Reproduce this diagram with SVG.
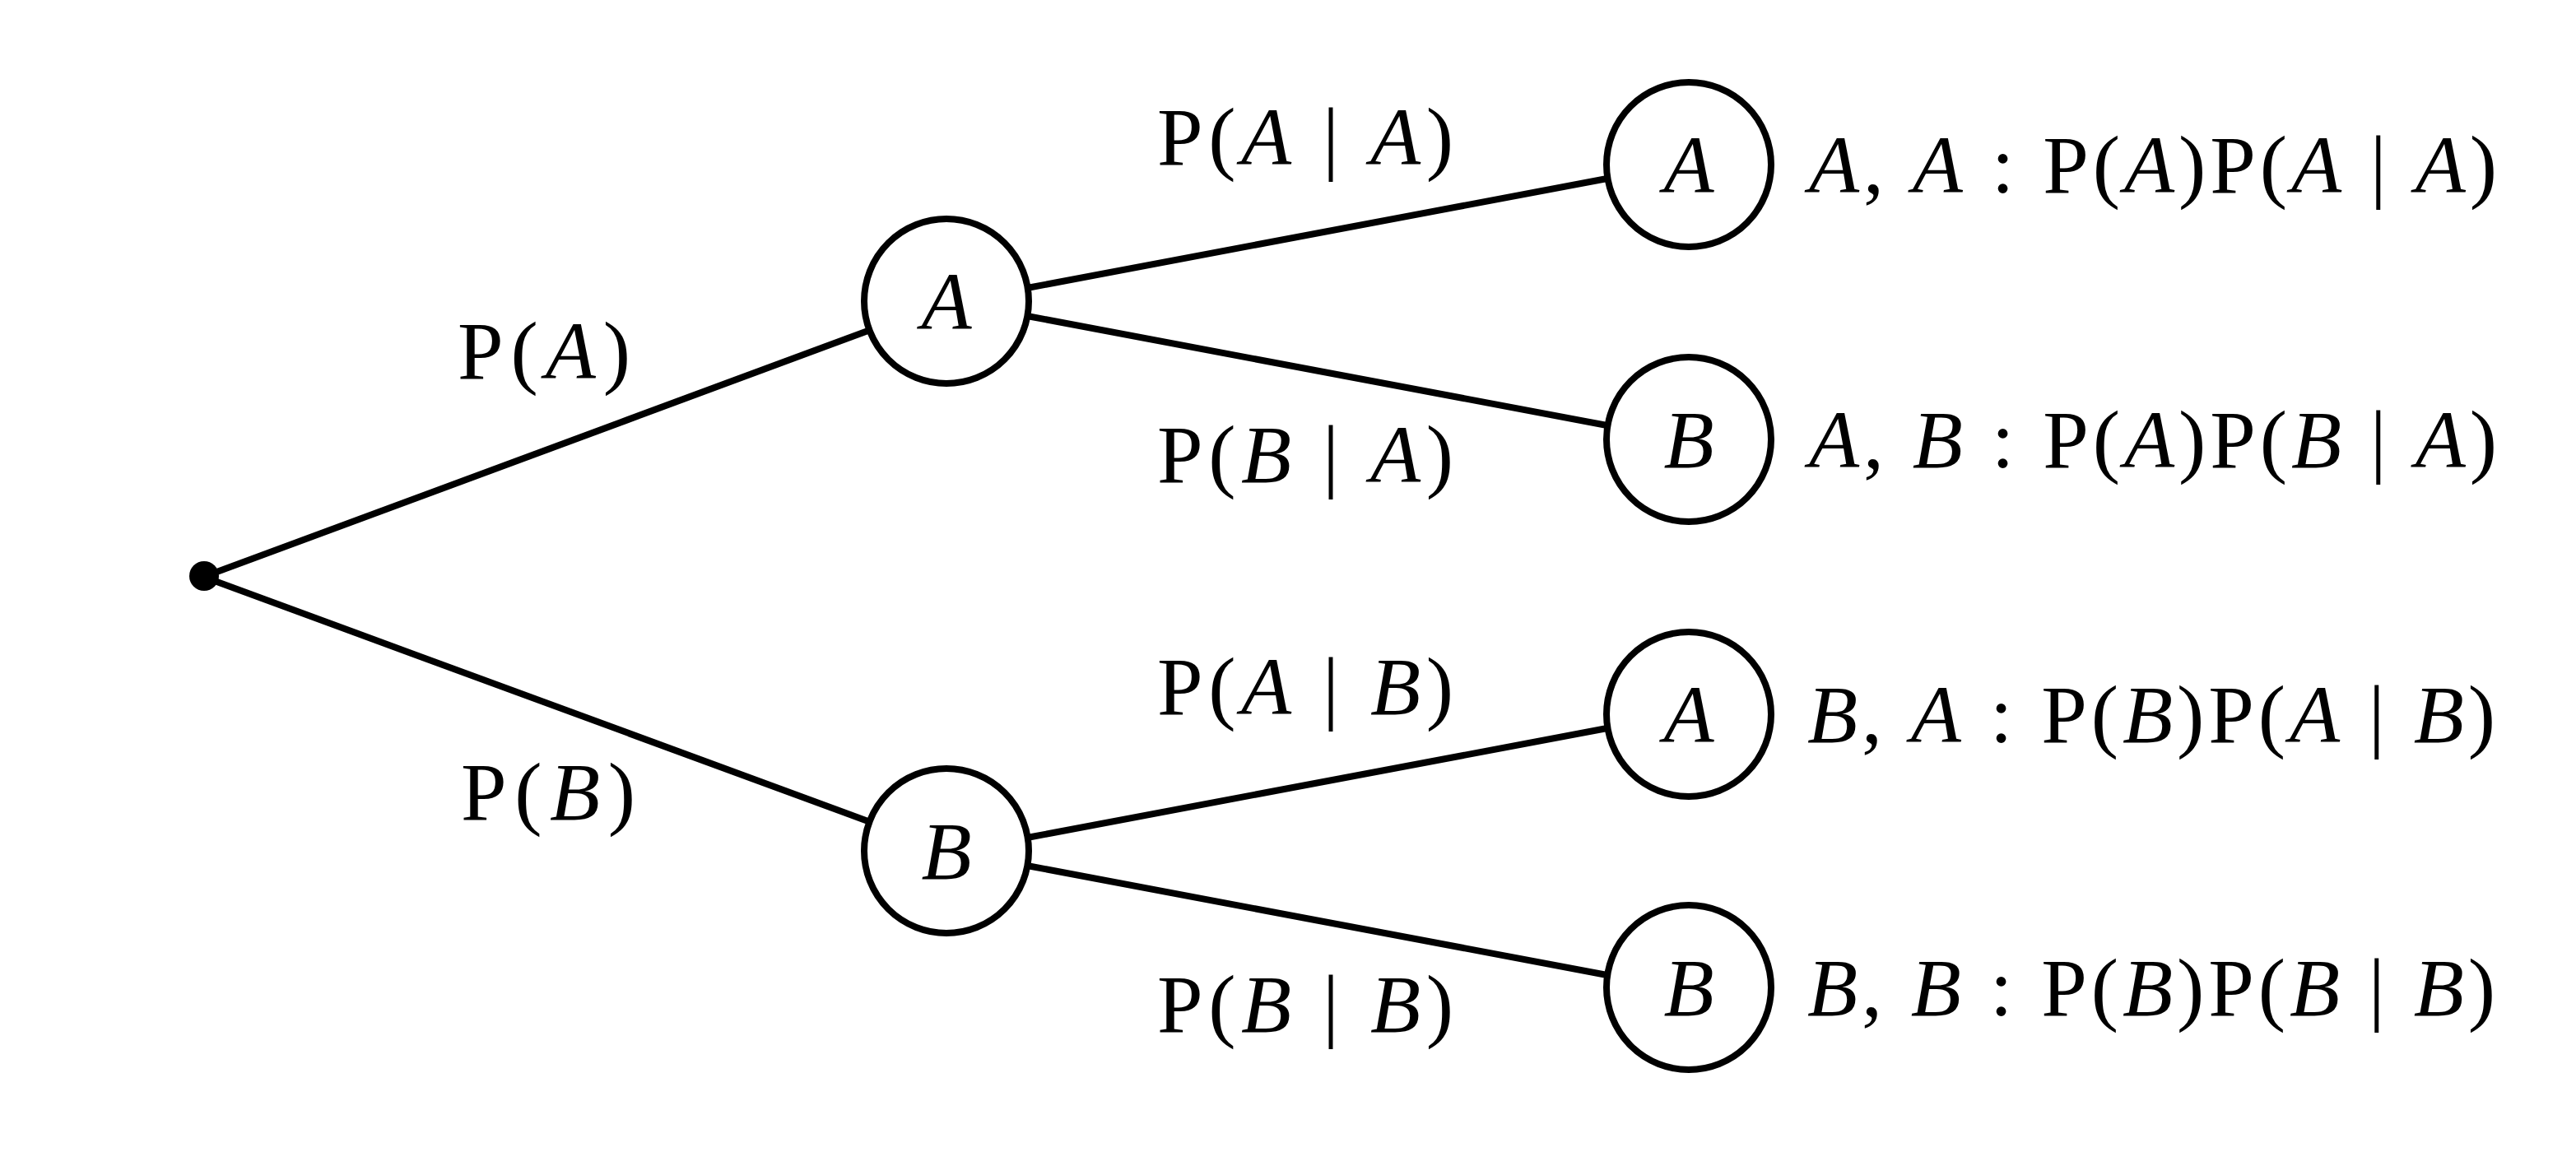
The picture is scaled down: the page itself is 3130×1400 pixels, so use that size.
<svg xmlns="http://www.w3.org/2000/svg" width="3130" height="1400" viewBox="0 0 3130 1400">
<style>
.e{stroke:#000;stroke-width:8;fill:none}
.n{stroke:#000;stroke-width:8;fill:#fff}
text{font-family:"Liberation Serif","DejaVu Serif",serif;font-size:100px;fill:#000}
.i{font-style:italic}
.m{text-anchor:middle}
</style>
<rect width="3130" height="1400" fill="#fff"/>
<g id="connectors">
<line class="e" x1="250" y1="700" x2="1060" y2="400"/>
<line class="e" x1="250" y1="702" x2="1060" y2="1000"/>
<line class="e" x1="1248" y1="350" x2="1958" y2="216"/>
<line class="e" x1="1248" y1="384" x2="1958" y2="518"/>
<line class="e" x1="1248" y1="1018" x2="1958" y2="884"/>
<line class="e" x1="1248" y1="1052" x2="1958" y2="1186"/>
</g>
<g id="root"><circle cx="248" cy="700" r="18" fill="#000"/></g>
<g id="nA1"><circle class="n" cx="1150" cy="366" r="100"/><text class="i m" x="1150" y="400">A</text></g>
<g id="nB1"><circle class="n" cx="1150" cy="1034" r="100"/><text class="i m" x="1150" y="1068">B</text></g>
<g id="nAA"><circle class="n" cx="2052" cy="200" r="100"/><text class="i m" x="2052" y="234">A</text></g>
<g id="nAB"><circle class="n" cx="2052" cy="534" r="100"/><text class="i m" x="2052" y="568">B</text></g>
<g id="nBA"><circle class="n" cx="2052" cy="868" r="100"/><text class="i m" x="2052" y="902">A</text></g>
<g id="nBB"><circle class="n" cx="2052" cy="1200" r="100"/><text class="i m" x="2052" y="1234">B</text></g>
<g id="labels">
<text x="556" y="460" textLength="210">P(<tspan class="i">A</tspan>)</text>
<text x="560" y="996" textLength="212">P(<tspan class="i">B</tspan>)</text>
<text x="1406" y="200" textLength="360">P(<tspan class="i">A</tspan> | <tspan class="i">A</tspan>)</text>
<text x="1406" y="586" textLength="360">P(<tspan class="i">B</tspan> | <tspan class="i">A</tspan>)</text>
<text x="1406" y="868" textLength="360">P(<tspan class="i">A</tspan> | <tspan class="i">B</tspan>)</text>
<text x="1406" y="1254" textLength="360">P(<tspan class="i">B</tspan> | <tspan class="i">B</tspan>)</text>
<text x="2198" y="234" textLength="836"><tspan class="i">A</tspan>, <tspan class="i">A</tspan> : P(<tspan class="i">A</tspan>)P(<tspan class="i">A</tspan> | <tspan class="i">A</tspan>)</text>
<text x="2198" y="568" textLength="836"><tspan class="i">A</tspan>, <tspan class="i">B</tspan> : P(<tspan class="i">A</tspan>)P(<tspan class="i">B</tspan> | <tspan class="i">A</tspan>)</text>
<text x="2196" y="902" textLength="836"><tspan class="i">B</tspan>, <tspan class="i">A</tspan> : P(<tspan class="i">B</tspan>)P(<tspan class="i">A</tspan> | <tspan class="i">B</tspan>)</text>
<text x="2196" y="1234" textLength="836"><tspan class="i">B</tspan>, <tspan class="i">B</tspan> : P(<tspan class="i">B</tspan>)P(<tspan class="i">B</tspan> | <tspan class="i">B</tspan>)</text>
</g>
</svg>
